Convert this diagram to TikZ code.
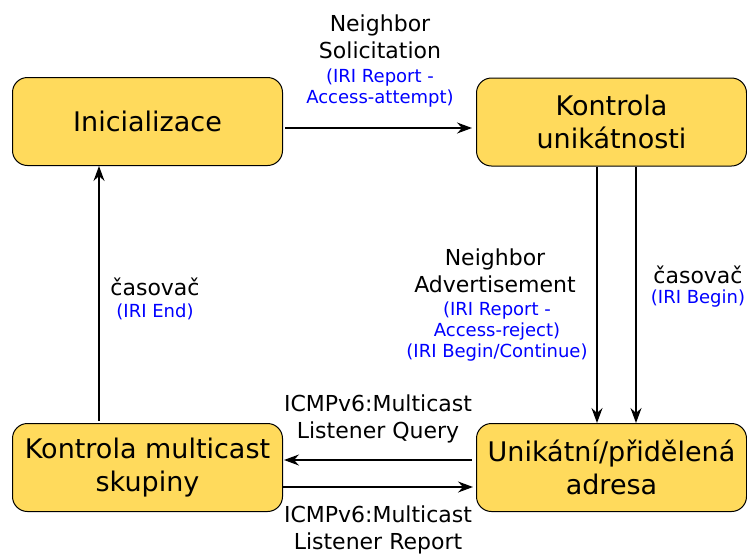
\documentclass[tikz,border=0pt]{standalone}
\usepackage{fontspec}
\setmainfont{DejaVu Sans}
\usetikzlibrary{arrows.meta}
\definecolor{boxfill}{HTML}{FFDA5C}
\definecolor{iriblue}{HTML}{0000FF}
\tikzset{
  state/.style={draw=black, line width=1pt, fill=boxfill, rounded corners=15pt,
    minimum width=270pt, minimum height=88pt, align=center, inner sep=0pt,
    font=\fontsize{27}{33}\selectfont},
  lbl/.style={align=center, inner sep=0pt, font=\fontsize{22}{27}\selectfont},
  iri/.style={text=iriblue, align=center, inner sep=0pt, font=\fontsize{18}{21}\selectfont},
  flow/.style={line width=1.5pt, -{Stealth[length=15pt, width=11pt, inset=5pt]}}
}
\begin{document}
\begin{tikzpicture}[x=1pt, y=-1pt]
  \useasboundingbox (0,0) rectangle (747,555);

  % states
  \node[state] (init) at (147.5,121.5) {Inicializace};
  \node[state] (uniq) at (611.5,122) {Kontrola\\unikátnosti};
  \node[state] (mcast) at (147.5,467.5) {Kontrola multicast\\skupiny};
  \node[state] (addr) at (611.5,467.5) {Unikátní/přidělená\\adresa};

  % transitions
  \coordinate (a1) at ([xshift=2pt]init.east |- 0,128);
  \coordinate (a2) at ([xshift=-4pt]uniq.west |- 0,128);
  \draw[flow] (a1) -- (a2);

  \coordinate (d1s) at ([xshift=-14.5pt]uniq.south);
  \coordinate (d2s) at ([xshift=24.5pt]uniq.south);
  \draw[flow] (d1s) -- (d1s |- addr.north);
  \draw[flow] (d2s) -- (d2s |- addr.north);

  \coordinate (upS) at ([xshift=-48.5pt,yshift=2pt]mcast.north);
  \draw[flow] (upS) -- (upS |- init.south);

  \coordinate (q1) at ([xshift=-4pt]addr.west |- 0,460);
  \draw[flow] (q1) -- ([xshift=1pt]mcast.east |- q1);
  \coordinate (r1) at ([xshift=0pt]mcast.east |- 0,487);
  \draw[flow] (r1) -- ([xshift=-3pt]addr.west |- r1);

  % transition labels
  \node[lbl] (nsol) at (380,37) {Neighbor\\Solicitation};
  \node[iri] (nsolIri) at (380,88) {(IRI Report -\\Access-attempt)};

  \node[lbl] (nadv) at (495,271) {Neighbor\\Advertisement};
  \node[iri] (nadvIri) at (497,332) {(IRI Report -\\Access-reject)\\(IRI Begin/Continue)};

  \node[lbl] (tmrR) at (698,275) {časovač};
  \node[iri] (tmrRIri) at (698,299) {(IRI Begin)};

  \node[lbl] (tmrL) at (155,287) {časovač};
  \node[iri] (tmrLIri) at (155,312) {(IRI End)};

  \node[lbl] (query) at (378,419) {ICMPv6:Multicast\\Listener Query};
  \node[lbl] (report) at (378,530) {ICMPv6:Multicast\\Listener Report};
\end{tikzpicture}
\end{document}
